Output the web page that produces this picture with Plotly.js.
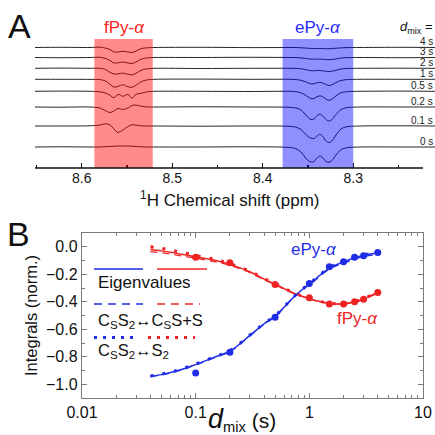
<!DOCTYPE html>
<html>
<head>
<meta charset="utf-8">
<script src="https://cdn.plot.ly/plotly-3.0.1.min.js"></script>
<style>html,body{margin:0;padding:0;background:#fff}#chart{width:435px;height:435px}</style>
</head>
<body>
<div id="chart"></div>
<script>
// ---------- Panel A: 1H spectra (chemical shift grid, ppm) ----------
const ppm = [8.6516, 8.6240, 8.5908, 8.5798, 8.5743, 8.5687, 8.5643, 8.5599, 8.5544, 8.5488, 8.5444, 8.5400, 8.5345, 8.5278, 8.5190, 8.4693, 8.4140, 8.3698, 8.3632, 8.3577, 8.3533, 8.3499, 8.3466, 8.3433, 8.3400, 8.3367, 8.3334, 8.3301, 8.3267, 8.3234, 8.3190, 8.3135, 8.3069, 8.2925, 8.2483, 8.2096];
const mixLabels = ["4 s", "3 s", "2 s", "1 s", "0.5 s", "0.2 s", "0.1 s", "0 s"];
const spec4s  = [0, 0.2, 0, 0.3, -0.5, -2, -4.5, -4.5, -3.8, -4.5, -5, -3.5, -1.2, -0.3, 0, 0.2, -0.1, 0, 0, -0.3, -0.5, -0.8, -0.9, -1, -1, -1, -1.1, -1.2, -1.2, -1, -0.7, -0.4, -0.1, 0, 0.2, 0];
const spec3s  = [0, -0.2, 0, 0.2, -0.8, -3, -5.5, -5.3, -4.5, -5.5, -6, -4.5, -1.8, -0.4, 0, 0, 0.2, 0, -0.1, -0.4, -0.9, -1.3, -1.6, -1.7, -1.6, -1.6, -1.8, -2.0, -2.2, -2.0, -1.4, -0.5, -0.1, 0, -0.2, 0];
const spec2s  = [0, 0.2, 0, 0, -1, -4, -5.8, -5.5, -4.8, -6, -6.6, -5, -2, -0.5, 0, -0.2, 0, 0, -0.1, -0.5, -1.2, -1.9, -2.4, -2.5, -2.2, -2.2, -2.6, -3.0, -3.2, -2.9, -2.0, -0.7, -0.2, 0, 0.1, 0];
const spec1s  = [0, 0, -0.1, -0.3, -1.5, -5, -7.8, -7, -5.5, -7.5, -8, -6, -2.5, -0.6, 0, 0.2, 0, 0, -0.3, -1, -2.3, -3.6, -4.6, -4.4, -3.5, -3.1, -3.8, -5.3, -6.3, -5.5, -3.2, -1.2, -0.3, 0, 0, 0];
const spec05s = [0, 0.2, 0, -0.5, -1.5, -4, -6.5, -3, -5, -3, -7, -3, -2, -0.5, 0, 0, -0.2, 0, -0.4, -1.5, -3.5, -5.5, -7.4, -7.2, -5.5, -4.5, -5.6, -7.8, -9, -7.8, -4.5, -1.5, -0.4, 0, 0.2, 0];
const spec02s = [0, -0.2, 0, -1, -3.5, -5.5, -4, -1.5, -2.5, -1, 1.5, 2, 0.8, 0, 0, 0.2, 0, -0.3, -1, -3, -7, -10.5, -12.5, -12, -8.5, -7.2, -9, -12.5, -14, -12.5, -7.5, -2.5, -0.6, 0, 0, 0];
const spec01s = [0, 0, 0.2, 1, 2.2, 1, -3, -6.5, -4, -0.5, 1.3, 0.8, 0.2, 0, 0, -0.2, 0, -0.3, -1.2, -3.5, -7.5, -10.5, -12.3, -12.5, -10, -8.3, -10.5, -15, -16.6, -15, -9, -3, -0.7, 0, 0.2, 0];
const spec0s  = [0, 0.2, 0, 0, 0.3, 0.5, 0.8, 1, 1, 1, 0.8, 0.5, 0.2, 0, 0, 0, 0.2, -0.5, -1.8, -5, -10, -13.5, -15, -14.5, -11, -9, -11, -14.5, -15.2, -13.5, -8, -2.8, -0.7, 0, 0, 0];
const fPyBand = [8.586, 8.5215];
const ePyBand = [8.378, 8.300];

// ---------- Panel B: integrals vs mixing time ----------
const dmixExp = [0.1, 0.2, 0.5, 1, 1.5, 2, 2.5, 3, 4];
const ePyExp  = [-0.918, -0.767, -0.512, -0.267, -0.146, -0.109, -0.077, -0.065, -0.041];
const fPyExp  = [-0.077, -0.116, -0.274, -0.371, -0.417, -0.417, -0.400, -0.381, -0.332];
const dmixFit = [0.04, 0.05, 0.06, 0.07, 0.08, 0.09, 0.1, 0.15, 0.2, 0.3, 0.4, 0.5, 0.6, 0.7, 0.8, 0.9, 1, 1.5, 2, 2.5, 3, 3.5, 4];
const ePyEig  = [-0.942, -0.93, -0.915, -0.90, -0.885, -0.87, -0.857, -0.80, -0.76, -0.645, -0.56, -0.505, -0.44, -0.38, -0.336, -0.30, -0.272, -0.155, -0.11, -0.08, -0.062, -0.052, -0.045];
const ePyDash = [-0.945, -0.932, -0.918, -0.903, -0.888, -0.873, -0.86, -0.803, -0.763, -0.648, -0.562, -0.507, -0.442, -0.382, -0.338, -0.303, -0.277, -0.163, -0.12, -0.09, -0.072, -0.062, -0.055];
const ePyDot  = [-0.94, -0.926, -0.912, -0.897, -0.882, -0.867, -0.853, -0.797, -0.757, -0.642, -0.557, -0.503, -0.437, -0.378, -0.333, -0.298, -0.27, -0.152, -0.107, -0.078, -0.06, -0.05, -0.043];
const fPyEig  = [-0.02, -0.03, -0.04, -0.05, -0.058, -0.066, -0.074, -0.10, -0.128, -0.182, -0.236, -0.272, -0.305, -0.33, -0.35, -0.365, -0.378, -0.412, -0.415, -0.40, -0.38, -0.355, -0.335];
const fPyDash = [-0.035, -0.044, -0.053, -0.062, -0.07, -0.077, -0.084, -0.11, -0.136, -0.188, -0.24, -0.276, -0.308, -0.333, -0.352, -0.367, -0.38, -0.413, -0.416, -0.402, -0.382, -0.358, -0.338];
const fPyDot  = [0.0, -0.012, -0.024, -0.035, -0.045, -0.054, -0.063, -0.093, -0.122, -0.178, -0.231, -0.269, -0.302, -0.328, -0.348, -0.364, -0.377, -0.411, -0.414, -0.399, -0.378, -0.352, -0.331];

// ---------- styling / stacking ----------
const W = 435, H = 435;
const px = v => v / W, py = v => 1 - v / H;
const BLUE = '#1f2ee6', RED = '#ee2424', TRACE = '#262626';
const FONT = 'Liberation Sans, Arial, Helvetica, sans-serif';
const spectra = [spec4s, spec3s, spec2s, spec1s, spec05s, spec02s, spec01s, spec0s];
const stackOffsets = [120.5, 110.5, 99.7, 88.7, 76.7, 61, 42, 21];

const data = [];
spectra.forEach((s, i) => {
  data.push({
    x: ppm, y: s.map(v => v + stackOffsets[i]), xaxis: 'x', yaxis: 'y',
    type: 'scatter', mode: 'lines', line: {color: TRACE, width: 1, shape: 'spline', smoothing: 0.8},
    hoverinfo: 'skip'
  });
});

function fit(y, color, dash, width) {
  return {x: dmixFit, y: y, xaxis: 'x2', yaxis: 'y2', type: 'scatter', mode: 'lines',
    line: {color: color, width: width, dash: dash, shape: 'spline'}, hoverinfo: 'skip'};
}
data.push(fit(ePyEig, BLUE, 'solid', 1.5));
data.push(fit(fPyEig, RED, 'solid', 1.5));
data.push(fit(ePyDash, BLUE, '7px,5px', 1.3));
data.push(fit(fPyDash, RED, '7px,5px', 1.3));
data.push(fit(ePyDot, BLUE, '3px,9px', 3));
data.push(fit(fPyDot, RED, '3px,9px', 3));
data.push({x: dmixExp, y: ePyExp, xaxis: 'x2', yaxis: 'y2', type: 'scatter', mode: 'markers',
  marker: {color: BLUE, size: 7}, cliponaxis: false});
data.push({x: dmixExp, y: fPyExp, xaxis: 'x2', yaxis: 'y2', type: 'scatter', mode: 'markers',
  marker: {color: RED, size: 7}, cliponaxis: false});

const shapes = [
  {type: 'rect', xref: 'x', yref: 'y domain', x0: fPyBand[0], x1: fPyBand[1], y0: 0, y1: 1,
    fillcolor: 'rgba(255,0,0,0.45)', line: {width: 0}, layer: 'above'},
  {type: 'rect', xref: 'x', yref: 'y domain', x0: ePyBand[0], x1: ePyBand[1], y0: 0, y1: 1,
    fillcolor: 'rgba(0,0,255,0.44)', line: {width: 0}, layer: 'above'},
  {type: 'line', xref: 'paper', yref: 'paper', x0: px(35), x1: px(423), y0: py(168), y1: py(168),
    line: {color: '#111', width: 1.5}},
  // legend samples in panel B
  {type: 'line', xref: 'paper', yref: 'paper', x0: px(94), x1: px(143), y0: py(269), y1: py(269), line: {color: BLUE, width: 1.5}},
  {type: 'line', xref: 'paper', yref: 'paper', x0: px(157), x1: px(207), y0: py(269), y1: py(269), line: {color: RED, width: 1.5}},
  {type: 'line', xref: 'paper', yref: 'paper', x0: px(94), x1: px(143), y0: py(304), y1: py(304), line: {color: BLUE, width: 1.5, dash: '8px,6px'}},
  {type: 'line', xref: 'paper', yref: 'paper', x0: px(157), x1: px(200), y0: py(304), y1: py(304), line: {color: RED, width: 1.5, dash: '8px,6px'}},
  {type: 'line', xref: 'paper', yref: 'paper', x0: px(94), x1: px(139), y0: py(337.5), y1: py(337.5), line: {color: BLUE, width: 3, dash: '3px,6px'}},
  {type: 'line', xref: 'paper', yref: 'paper', x0: px(148), x1: px(195), y0: py(337.5), y1: py(337.5), line: {color: RED, width: 3, dash: '3px,6px'}}
];

function ann(text, x, y, size, extra) {
  return Object.assign({text: text, xref: 'paper', yref: 'paper', x: px(x), y: py(y), showarrow: false,
    xanchor: 'center', yanchor: 'middle', font: {size: size, color: '#111', family: FONT}}, extra || {});
}
const annotations = [
  ann('A', 19, 26, 34),
  ann('B', 18, 234, 34),
  ann('fPy-<i>α</i>', 124, 27, 17, {font: {size: 17, color: '#ff2222', family: FONT}}),
  ann('ePy-<i>α</i>', 318, 27, 17, {font: {size: 17, color: '#2a2aff', family: FONT}}),
  ann('<i>d</i><sub>mix</sub> =', 435, 27, 13, {xanchor: 'right'}),
  ann('<sup>1</sup>H Chemical shift (ppm)', 230, 199, 17),
  ann('Integrals (norm.)', 31, 316, 16.5, {textangle: -90}),
  ann('<span style="font-size:27px"><i>d</i></span><sub>mix</sub> (s)', 242, 419, 21),
  ann('ePy-<i>α</i>', 314, 250, 17, {font: {size: 17, color: BLUE, family: FONT}}),
  ann('fPy-<i>α</i>', 357, 318, 17, {font: {size: 17, color: RED, family: FONT}}),
  ann('Eigenvalues', 96, 282, 17, {xanchor: 'left'}),
  ann('C<sub>S</sub>S<sub>2</sub>↔C<sub>S</sub>S+S', 96, 321, 16.5, {xanchor: 'left'}),
  ann('C<sub>S</sub>S<sub>2</sub>↔S<sub>2</sub>', 96, 351, 16.5, {xanchor: 'left'})
];
mixLabels.forEach((t, i) => {
  annotations.push({text: t, xref: 'paper', yref: 'y', x: px(435), y: stackOffsets[i] + 5.5,
    xanchor: 'right', yanchor: 'middle', showarrow: false, font: {size: 10, color: '#222', family: FONT}});
});

const layout = {
  width: W, height: H, margin: {l: 0, r: 0, t: 0, b: 0},
  paper_bgcolor: '#fff', plot_bgcolor: 'rgba(0,0,0,0)', showlegend: false,
  font: {family: FONT, color: '#111'},
  xaxis: {domain: [px(35), 1], range: [8.6516, 8.2096], anchor: 'y', showline: false, zeroline: false, showgrid: false,
    ticks: 'inside', ticklen: 5, tickwidth: 1.2, tickcolor: '#111',
    tickvals: [8.6, 8.5, 8.4, 8.3], ticktext: ['8.6', '8.5', '8.4', '8.3'], tickfont: {size: 14},
    minor: {tickvals: [8.65, 8.55, 8.45, 8.35, 8.25], ticks: 'inside', ticklen: 3, tickcolor: '#111'}},
  yaxis: {domain: [py(168), py(39)], range: [0, 129], visible: false, fixedrange: true},
  xaxis2: {domain: [px(82), px(423)], type: 'log', range: [-2, 1], anchor: 'y2',
    showline: true, linecolor: '#7a7a7a', linewidth: 1.2, mirror: 'ticks', zeroline: false, showgrid: false,
    ticks: 'inside', ticklen: 5, tickcolor: '#7a7a7a', dtick: 1, tickfont: {size: 16},
    minor: {ticks: 'inside', ticklen: 3, dtick: 'D1', tickcolor: '#7a7a7a', showgrid: false}},
  yaxis2: {domain: [py(398), py(233)], range: [-1.1, 0.1], anchor: 'x2',
    showline: true, linecolor: '#7a7a7a', linewidth: 1.2, mirror: 'ticks', zeroline: false, showgrid: false,
    ticks: 'inside', ticklen: 5, tickcolor: '#7a7a7a', tick0: 0, dtick: 0.2, tickformat: '.1f', tickfont: {size: 16},
    minor: {ticks: 'inside', ticklen: 3, dtick: 0.1, tickcolor: '#7a7a7a', showgrid: false}},
  shapes: shapes,
  annotations: annotations
};

Plotly.newPlot('chart', data, layout, {staticPlot: true, displayModeBar: false});
</script>
</body>
</html>
